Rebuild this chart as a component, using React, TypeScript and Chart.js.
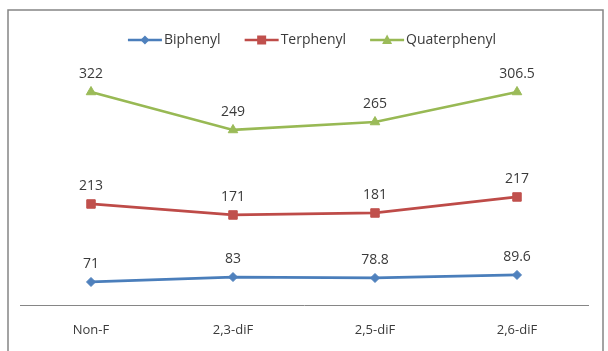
import React, { useEffect, useRef } from 'react';
import { Chart, registerables } from 'chart.js';

Chart.register(...registerables);

// Categories and series
const categories = ['Non-F', '2,3-diF', '2,5-diF', '2,6-diF'];
const seriesNames = ['Biphenyl', 'Terphenyl', 'Quaterphenyl'];

const biphenylValues = [78.9, 85.1, 83.9, 87.7];
const terphenylValues = [176.8, 163.0, 165.5, 185.6];
const quaterphenylValues = [317.4, 269.7, 279.7, 317.4];

// Data-label texts shown above each point
const biphenylLabels = ['71', '83', '78.8', '89.6'];
const terphenylLabels = ['213', '171', '181', '217'];
const quaterphenylLabels = ['322', '249', '265', '306.5'];

const FONT = '"Open Sans", "DejaVu Sans", sans-serif';
const TEXT = '#3a3a3a';

const seriesValues = [biphenylValues, terphenylValues, quaterphenylValues];
const seriesLabels = [biphenylLabels, terphenylLabels, quaterphenylLabels];
const lineColors = ['#4A7EBB', '#BE4B48', '#98B954'];
const markerColors = ['#4F81BD', '#C0504D', '#9BBB59'];
const markerStyles = ['rectRot', 'rect', 'triangle'];
const markerRadius = [4.5, 6, 5.5];
const legendMarkerSize = [4.5, 4.5, 5];

function drawMarker(ctx: CanvasRenderingContext2D, style: string, x: number, y: number, r: number, color: string) {
  ctx.save();
  ctx.fillStyle = color;
  ctx.beginPath();
  if (style === 'rectRot') {
    ctx.moveTo(x, y - r);
    ctx.lineTo(x + r, y);
    ctx.lineTo(x, y + r);
    ctx.lineTo(x - r, y);
  } else if (style === 'rect') {
    ctx.rect(x - r, y - r, 2 * r, 2 * r);
  } else {
    ctx.moveTo(x, y - r * 1.1);
    ctx.lineTo(x + r, y + r * 0.8);
    ctx.lineTo(x - r, y + r * 0.8);
  }
  ctx.closePath();
  ctx.fill();
  ctx.restore();
}

const framePlugin = {
  id: 'frame',
  beforeDraw(chart: any) {
    const ctx = chart.ctx as CanvasRenderingContext2D;
    ctx.save();
    ctx.fillStyle = '#ffffff';
    ctx.fillRect(0, 0, chart.width, chart.height);
    ctx.strokeStyle = '#858585';
    ctx.lineWidth = 1.5;
    ctx.strokeRect(8, 10, 595, chart.height + 20);
    ctx.restore();
  },
};

const legendPlugin = {
  id: 'customLegend',
  afterDraw(chart: any) {
    const ctx = chart.ctx as CanvasRenderingContext2D;
    ctx.save();
    ctx.font = `14px ${FONT}`;
    const lineLen = 34;
    const textGap = 2;
    const itemGap = 24;
    const ds = chart.data.datasets;
    const widths = ds.map((d: any) => lineLen + textGap + ctx.measureText(d.label).width);
    const total = widths.reduce((a: number, b: number) => a + b, 0) + itemGap * (ds.length - 1);
    let x = 312 - total / 2;
    const y = 40;
    ds.forEach((d: any, i: number) => {
      ctx.strokeStyle = lineColors[i];
      ctx.lineWidth = 2.5;
      ctx.beginPath();
      ctx.moveTo(x, y);
      ctx.lineTo(x + lineLen, y);
      ctx.stroke();
      drawMarker(ctx, markerStyles[i], x + lineLen / 2, y, legendMarkerSize[i], markerColors[i]);
      ctx.fillStyle = TEXT;
      ctx.textAlign = 'left';
      ctx.textBaseline = 'middle';
      ctx.fillText(d.label, x + lineLen + textGap, y);
      x += widths[i] + itemGap;
    });
    ctx.restore();
  },
};

const dataLabelPlugin = {
  id: 'dataLabels',
  afterDatasetsDraw(chart: any) {
    const ctx = chart.ctx as CanvasRenderingContext2D;
    ctx.save();
    ctx.font = `14px ${FONT}`;
    ctx.fillStyle = TEXT;
    ctx.textAlign = 'center';
    ctx.textBaseline = 'middle';
    chart.data.datasets.forEach((_d: any, i: number) => {
      const meta = chart.getDatasetMeta(i);
      meta.data.forEach((pt: any, j: number) => {
        ctx.fillText(seriesLabels[i][j], pt.x, pt.y - 18);
      });
    });
    ctx.restore();
  },
};

export default function App() {
  const ref = useRef<HTMLCanvasElement | null>(null);

  useEffect(() => {
    if (!ref.current) return;
    const chart = new Chart(ref.current, {
      type: 'line',
      data: {
        labels: categories,
        datasets: seriesNames.map((name, i) => ({
          label: name,
          data: seriesValues[i],
          borderColor: lineColors[i],
          backgroundColor: markerColors[i],
          borderWidth: 2.75,
          tension: 0,
          fill: false,
          pointStyle: markerStyles[i] as any,
          pointRadius: markerRadius[i],
          pointBackgroundColor: markerColors[i],
          pointBorderColor: markerColors[i],
          pointBorderWidth: 1,
        })),
      },
      options: {
        animation: false,
        responsive: false,
        maintainAspectRatio: false,
        layout: { padding: { left: 20, right: 20, top: 66, bottom: 0 } },
        plugins: {
          legend: { display: false },
          tooltip: { enabled: false },
          title: { display: false },
        },
        scales: {
          x: {
            offset: true,
            grid: { display: false, drawTicks: false },
            border: { display: true, color: '#868686', width: 1 },
            ticks: { color: TEXT, font: { family: FONT, size: 13 }, padding: 17 },
            afterFit: (s: any) => {
              s.height = 46;
            },
          },
          y: { display: false, min: 50, max: 350 },
        },
      },
      plugins: [framePlugin, legendPlugin, dataLabelPlugin],
    });
    return () => chart.destroy();
  }, []);

  return (
    <div style={{ position: 'absolute', left: 0, top: 0, width: 608, height: 351 }}>
      <canvas ref={ref} width={608} height={351} style={{ display: 'block' }} />
    </div>
  );
}
